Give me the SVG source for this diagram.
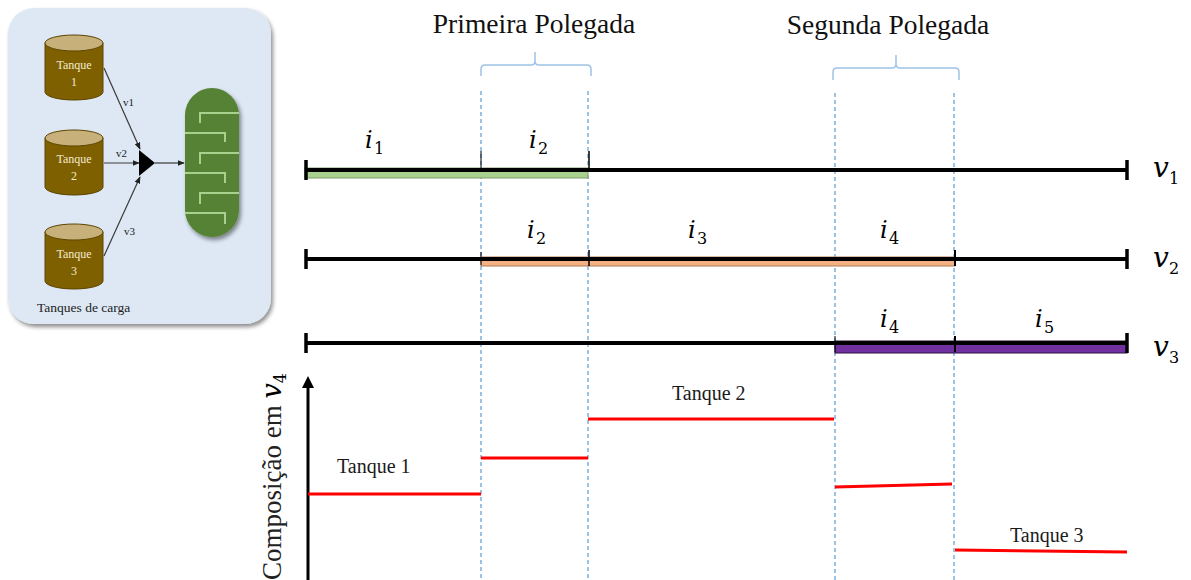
<svg xmlns="http://www.w3.org/2000/svg" width="1191" height="580" viewBox="0 0 1191 580">
  <style>
    .serif { font-family: "Liberation Serif", Tinos, "Times New Roman", "DejaVu Serif", serif; }
    .math { font-family: "DejaVu Serif", "Liberation Serif", serif; font-style: italic; fill: #000; }
    .sub { font-family: "DejaVu Serif", "Liberation Serif", serif; font-style: normal; fill: #000; }
    .tanklabel { font-family: "Liberation Serif", Tinos, "Times New Roman", serif; font-size: 12px; fill: #f3ead2; text-anchor: middle; }
    .small { font-family: "Liberation Serif", Tinos, "Times New Roman", serif; font-size: 11px; fill: #222; }
    .cylbody { fill: #7f6000; stroke: #5c4500; stroke-width: 1; }
    .cyltop { fill: #c7b07a; stroke: #5c4500; stroke-width: 1; }
    .pipe { stroke: #3a3a3a; stroke-width: 1.2; fill: none; marker-end: url(#smallArrow); }
    .coil { stroke: #a9d18e; stroke-width: 2; fill: none; }
    .guide { stroke: #5b9bd5; stroke-width: 1.2; stroke-dasharray: 4 3; fill: none; }
    .brace { stroke: #9dc3e6; stroke-width: 1.5; fill: none; }
    .bar { stroke: #000; stroke-width: 4; }
    .tick { stroke: #000; stroke-width: 3.5; }
    .comp { stroke: #ff0000; stroke-width: 3; }
    .steplabel { font-size: 20px; fill: #1a1a1a; }
  </style>
  <defs>
    <marker id="smallArrow" viewBox="0 0 10 10" refX="9" refY="5" markerWidth="6" markerHeight="6" orient="auto">
      <path d="M0,1 L10,5 L0,9 z" fill="#222"/>
    </marker>
    <filter id="soft" x="-10%" y="-10%" width="130%" height="130%">
      <feGaussianBlur in="SourceAlpha" stdDeviation="2"/>
      <feOffset dx="2" dy="3"/>
      <feComponentTransfer><feFuncA type="linear" slope="0.45"/></feComponentTransfer>
      <feMerge><feMergeNode/><feMergeNode in="SourceGraphic"/></feMerge>
    </filter>
  </defs>

  <rect width="1191" height="580" fill="#ffffff"/>

  <!-- Inset: feed tanks to column -->
  <g id="inset">
    <rect x="8" y="8" width="263" height="316" rx="26" fill="#dde8f4" filter="url(#soft)"/>
  </g>

  <g id="tank1">
    <path class="cylbody" d="M45,43 L45,92 A29,8 0 0 0 103,92 L103,43 z"/>
    <ellipse class="cyltop" cx="74" cy="43" rx="29" ry="8"/>
    <text class="tanklabel" x="74" y="69">Tanque</text>
    <text class="tanklabel" x="74" y="86">1</text>
  </g>
  <g id="tank2">
    <path class="cylbody" d="M45,138 L45,187 A29,8 0 0 0 103,187 L103,138 z"/>
    <ellipse class="cyltop" cx="74" cy="138" rx="29" ry="8"/>
    <text class="tanklabel" x="74" y="163">Tanque</text>
    <text class="tanklabel" x="74" y="180">2</text>
  </g>
  <g id="tank3">
    <path class="cylbody" d="M45,232 L45,281 A29,8 0 0 0 103,281 L103,232 z"/>
    <ellipse class="cyltop" cx="74" cy="232" rx="29" ry="8"/>
    <text class="tanklabel" x="74" y="258">Tanque</text>
    <text class="tanklabel" x="74" y="275">3</text>
  </g>

  <g id="mixer">
    <polygon points="139,150 139,176 155,163" fill="#000"/>
  </g>

  <g id="column">
    <rect x="185" y="88" width="54" height="149" rx="27" fill="#548235" filter="url(#soft)"/>
    <path class="coil" d="M200,123 V113 H239"/>
    <path class="coil" d="M185,133 H225 V142"/>
    <path class="coil" d="M200,164 V153 H239"/>
    <path class="coil" d="M185,173 H225 V183"/>
    <path class="coil" d="M200,204 V193 H239"/>
    <path class="coil" d="M185,213 H225 V224"/>
  </g>

  <g id="inset-connectors">
    <line class="pipe" x1="104" y1="68" x2="140" y2="149"/>
    <line class="pipe" x1="104" y1="163" x2="139" y2="163"/>
    <line class="pipe" x1="104" y1="256" x2="140" y2="177"/>
    <line class="pipe" x1="155" y1="163" x2="184" y2="163"/>
    <text class="small" x="123" y="106">v1</text>
    <text class="small" x="116" y="157">v2</text>
    <text class="small" x="124" y="235">v3</text>
  </g>
  <text class="serif" x="37" y="312" font-size="13.5" fill="#222">Tanques  de carga</text>

  <!-- Dashed guides -->
  <g id="guides">
    <line class="guide" x1="481" y1="91" x2="481" y2="580"/>
    <line class="guide" x1="588" y1="91" x2="588" y2="580"/>
    <line class="guide" x1="835" y1="93" x2="835" y2="580"/>
    <line class="guide" x1="954" y1="93" x2="954" y2="580"/>
  </g>

  <!-- Braces and titles -->
  <g id="first-inch">
    <path class="brace" d="M481,76 V69 Q481,65 485,65 H531 Q535,65 535,61 V52 M535,61 Q535,65 539,65 H587 Q591,65 591,69 V76"/>
    <text class="serif" x="534" y="33" font-size="27.5" text-anchor="middle" fill="#111">Primeira Polegada</text>
  </g>
  <g id="second-inch">
    <path class="brace" d="M833,80 V72 Q833,68 837,68 H892 Q896,68 896,64 V55 M896,64 Q896,68 900,68 H955 Q959,68 959,72 V80"/>
    <text class="serif" x="888" y="34" font-size="27.5" text-anchor="middle" fill="#111">Segunda Polegada</text>
  </g>

  <!-- Valve v1 timeline -->
  <g id="v1">
    <rect x="305" y="168" width="283" height="10" fill="#a9d18e" stroke="#7c9a66" stroke-width="1"/>
    <line class="bar" x1="305" y1="170" x2="1127" y2="170"/>
    <line class="tick" x1="306" y1="160" x2="306" y2="180"/>
    <line class="tick" x1="1127" y1="160" x2="1127" y2="180"/>
    <line x1="481" y1="151" x2="481" y2="170" stroke="#000" stroke-width="1"/>
    <line x1="589" y1="151" x2="589" y2="170" stroke="#000" stroke-width="1.5"/>
    <text class="math" x="365" y="148" font-size="24">i</text><text class="sub" x="374" y="154" font-size="16">1</text>
    <text class="math" x="529" y="148" font-size="24">i</text><text class="sub" x="538" y="154" font-size="16">2</text>
    <text class="math" x="1153" y="177" font-size="28">v</text><text class="sub" x="1169" y="184" font-size="16">1</text>
  </g>

  <!-- Valve v2 timeline -->
  <g id="v2">
    <rect x="481" y="257" width="474" height="9" fill="#f4b183" stroke="#b07a55" stroke-width="1"/>
    <line class="bar" x1="305" y1="259" x2="1127" y2="259"/>
    <line class="tick" x1="306" y1="249" x2="306" y2="269"/>
    <line class="tick" x1="1127" y1="249" x2="1127" y2="269"/>
    <line x1="481" y1="252" x2="481" y2="265" stroke="#000" stroke-width="1"/>
    <line x1="589" y1="250" x2="589" y2="266" stroke="#000" stroke-width="1.5"/>
    <line x1="955" y1="250" x2="955" y2="266" stroke="#000" stroke-width="2"/>
    <text class="math" x="527" y="238" font-size="24">i</text><text class="sub" x="536" y="244" font-size="16">2</text>
    <text class="math" x="688" y="238" font-size="24">i</text><text class="sub" x="697" y="244" font-size="16">3</text>
    <text class="math" x="880" y="238" font-size="24">i</text><text class="sub" x="889" y="244" font-size="16">4</text>
    <text class="math" x="1153" y="267" font-size="28">v</text><text class="sub" x="1169" y="274" font-size="16">2</text>
  </g>

  <!-- Valve v3 timeline -->
  <g id="v3">
    <rect x="835" y="341" width="292" height="12" fill="#7030a0" stroke="#2a1040" stroke-width="1"/>
    <line class="bar" x1="305" y1="343" x2="1127" y2="343" stroke-width="3.5"/>
    <line class="tick" x1="306" y1="333" x2="306" y2="353"/>
    <line class="tick" x1="1127" y1="333" x2="1127" y2="353"/>
    <line x1="835" y1="336" x2="835" y2="352" stroke="#000" stroke-width="1"/>
    <line x1="955" y1="336" x2="955" y2="352" stroke="#000" stroke-width="2"/>
    <text class="math" x="880" y="327" font-size="24">i</text><text class="sub" x="889" y="333" font-size="16">4</text>
    <text class="math" x="1035" y="327" font-size="24">i</text><text class="sub" x="1044" y="333" font-size="16">5</text>
    <text class="math" x="1153" y="356" font-size="28">v</text><text class="sub" x="1169" y="363" font-size="16">3</text>
  </g>

  <!-- Composition axis -->
  <g id="axis">
    <line x1="308" y1="580" x2="308" y2="384" stroke="#000" stroke-width="3"/>
    <polygon points="302,388 308,376 314,388" fill="#000"/>
    <text class="serif" transform="translate(281,580) rotate(-90)" font-size="27" fill="#222">Composição  em <tspan class="math" fill="#000">v</tspan><tspan class="sub" font-size="16" dy="5" fill="#000">4</tspan></text>
  </g>

  <!-- Composition steps -->
  <g id="composition">
    <line class="comp" x1="308" y1="494" x2="481" y2="494"/>
    <line class="comp" x1="481" y1="458" x2="588" y2="458"/>
    <line class="comp" x1="588" y1="419" x2="834" y2="419"/>
    <line class="comp" x1="835" y1="487" x2="952" y2="484"/>
    <line class="comp" x1="955" y1="550" x2="1127" y2="552"/>
    <text class="serif steplabel" x="337" y="473">Tanque 1</text>
    <text class="serif steplabel" x="672" y="400">Tanque 2</text>
    <text class="serif steplabel" x="1010" y="542">Tanque 3</text>
  </g>
</svg>
